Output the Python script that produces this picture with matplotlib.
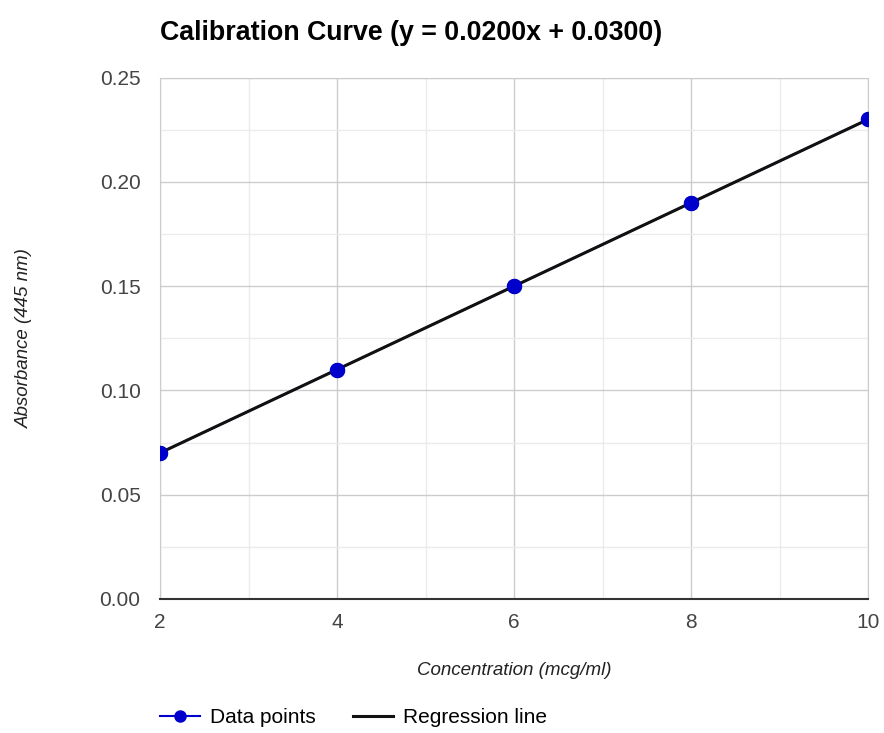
import matplotlib
matplotlib.use('Agg')
import matplotlib.pyplot as plt
from matplotlib.ticker import MultipleLocator

plt.rcParams['font.family'] = ['Liberation Sans', 'DejaVu Sans']

# data
conc = [2, 4, 6, 8, 10]
absorb = [0.07, 0.11, 0.15, 0.19, 0.23]
slope = 0.02
intercept = 0.03
fit = [slope * c + intercept for c in conc]

fig = plt.figure(figsize=(8.84, 7.33), dpi=100, facecolor='w')
ax = fig.add_axes([0.181, 0.183, 0.801, 0.711])

ax.plot(conc, absorb, color='#0000cc', marker='o', markersize=10, lw=1.5, label='Data points', zorder=3)
ax.plot(conc, fit, color='#111111', lw=2.2, label='Regression line', zorder=4)
# put markers on top of the black line
ax.plot(conc, absorb, color='#0000cc', marker='o', markersize=10, lw=0, zorder=5)

ax.set_xlim(2, 10)
ax.set_ylim(0, 0.25)
ax.xaxis.set_major_locator(MultipleLocator(2))
ax.xaxis.set_minor_locator(MultipleLocator(1))
ax.yaxis.set_major_locator(MultipleLocator(0.05))
ax.yaxis.set_minor_locator(MultipleLocator(0.025))
ax.yaxis.set_major_formatter(plt.FuncFormatter(lambda v, p: '%.2f' % v))

ax.grid(which='major', color='#cccccc', lw=1)
ax.grid(which='minor', color='#ebebeb', lw=1)
ax.set_axisbelow(True)
for s in ['top', 'right', 'left']:
    ax.spines[s].set_color('#cccccc')
ax.spines['bottom'].set_color('#333333')
ax.spines['bottom'].set_linewidth(1.5)
ax.tick_params(which='both', length=0, labelsize=15, colors='#444444')
ax.tick_params(axis='y', pad=14)
ax.tick_params(axis='x', pad=10)

ax.set_xlabel('Concentration (mcg/ml)', fontsize=13.5, style='italic', color='#222222', labelpad=22)
ax.set_ylabel('Absorbance (445 nm)', fontsize=13.5, style='italic', color='#222222')
ax.yaxis.set_label_coords(-0.18, 0.5)

fig.text(0.181, 0.955, 'Calibration Curve (y = 0.0200x + 0.0300)', fontsize=19.3, fontweight='bold',
         color='#000000', va='center', ha='left')

fig.legend(loc='center left', bbox_to_anchor=(0.181, 0.021), ncol=2, frameon=False, fontsize=15,
           handlelength=1.9, columnspacing=1.8, handletextpad=0.5, markerscale=0.8,
           borderpad=0, borderaxespad=0)

plt.savefig('out.png', dpi=100)
